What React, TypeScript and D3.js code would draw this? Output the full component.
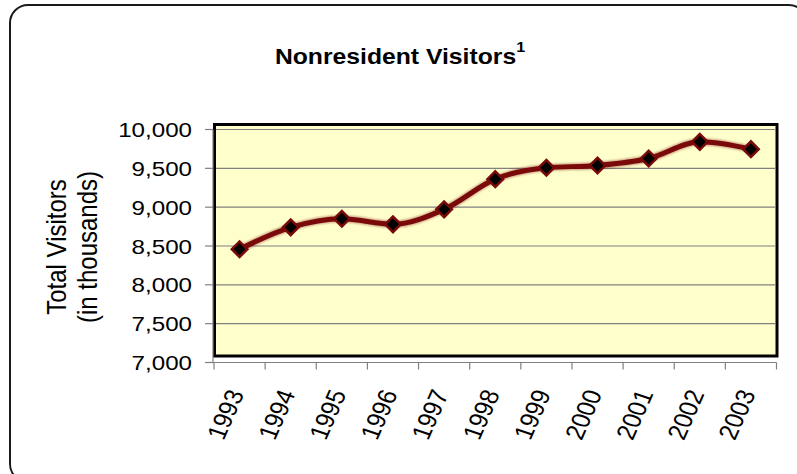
import {curveMonotoneX, format as d3Format, line, scaleBand, scaleLinear} from "d3";

const YEARS = ["1993", "1994", "1995", "1996", "1997", "1998", "1999", "2000", "2001", "2002", "2003"];
const VISITORS = [8458, 8740, 8851, 8779, 8972, 9361, 9507, 9537, 9627, 9841, 9747];
const Y_TICKS = [7000, 7500, 8000, 8500, 9000, 9500, 10000];

const TITLE = "Nonresident Visitors";
const TITLE_NOTE = "1";
const Y_TITLE = ["Total Visitors", "(in thousands)"];

const FONT = "'Liberation Sans', Arial, sans-serif";
const SX = 1.15; // the source picture is stretched sideways a little
const LINE_RED = "#7a0a0a";

export default function App() {
  const width = 797;
  const height = 474;

  const plot = {left: 213, right: 776.5, top: 129.5, bottom: 362.5};

  const x = scaleBand<string>().domain(YEARS).range([plot.left + 1, plot.right]).padding(0);
  const y = scaleLinear().domain([7000, 10000]).range([plot.bottom, plot.top]);
  const fmt = d3Format(",");

  const points = YEARS.map((year, i) => ({year, value: VISITORS[i]}));
  const cx = (year: string) => (x(year) ?? 0) + x.bandwidth() / 2;

  const path = line<{year: string; value: number}>()
    .x((d) => cx(d.year))
    .y((d) => y(d.value))
    .curve(curveMonotoneX);

  const boundaries = [...YEARS.map((year) => x(year) ?? 0), plot.right];

  return (
    <svg
      width={width}
      height={height}
      viewBox={`0 0 ${width} ${height}`}
      style={{position: "absolute", left: 0, top: 0, background: "#fff"}}
      fontFamily={FONT}
    >
      <rect x={10} y={5} width={797} height={477} rx={18} fill="#fff" stroke="#1a1a1a" strokeWidth={2} />

      <text transform={`translate(400,64) scale(${SX},1)`} textAnchor="middle" fontSize={21.5} fontWeight="bold">
        {TITLE}
        <tspan fontSize={14} dy={-12}>
          {TITLE_NOTE}
        </tspan>
      </text>

      {/* plot area */}
      <rect
        x={plot.left + 1.5}
        y={124.5}
        width={plot.right - plot.left - 1}
        height={356 - 124.5}
        fill="#ffffcc"
        stroke="#000"
        strokeWidth={3}
      />
      {Y_TICKS.filter((t) => t > 7000).map((tick) => (
        <line key={tick} x1={plot.left + 3} x2={plot.right - 1} y1={y(tick)} y2={y(tick)} stroke="#808080" strokeWidth={1.2} />
      ))}

      {/* axes */}
      <line x1={plot.left} x2={plot.left} y1={plot.top} y2={plot.bottom} stroke="#808080" strokeWidth={1.2} />
      <line x1={205} x2={plot.right} y1={plot.bottom} y2={plot.bottom} stroke="#808080" strokeWidth={1.2} />
      {Y_TICKS.map((tick) => (
        <g key={tick} transform={`translate(0,${y(tick)})`}>
          <line x1={205} x2={plot.left} stroke="#808080" strokeWidth={1.2} />
          <text transform={`translate(192,7.5) scale(${SX},1)`} textAnchor="end" fontSize={21} fill="#000">
            {fmt(tick)}
          </text>
        </g>
      ))}
      {boundaries.map((bx, i) => (
        <line key={i} x1={bx} x2={bx} y1={plot.bottom} y2={plot.bottom + 7} stroke="#808080" strokeWidth={1.2} />
      ))}
      {YEARS.map((year) => (
        <text
          key={year}
          transform={`translate(${cx(year) + 5},${plot.bottom + 31}) scale(${SX},1) rotate(-69)`}
          textAnchor="end"
          fontSize={23}
          fill="#000"
        >
          {year}
        </text>
      ))}

      {Y_TITLE.map((label, i) => (
        <text
          key={label}
          transform={`translate(${66 + i * 31},247) scale(${SX},1) rotate(-90)`}
          textAnchor="middle"
          fontSize={24}
          fill="#000"
        >
          {label}
        </text>
      ))}

      {/* series */}
      <path d={path(points) ?? ""} fill="none" stroke={LINE_RED} strokeWidth={7} strokeLinejoin="round" opacity={0.4} style={{filter: "blur(1.2px)"}} />
      <path d={path(points) ?? ""} fill="none" stroke={LINE_RED} strokeWidth={5} strokeLinejoin="round" />
      {points.map((d) => (
        <rect
          key={d.year}
          x={-5.5}
          y={-5.5}
          width={11}
          height={11}
          transform={`translate(${cx(d.year)},${y(d.value)}) rotate(45)`}
          fill="#000"
          stroke={LINE_RED}
          strokeWidth={2.5}
        />
      ))}
    </svg>
  );
}
